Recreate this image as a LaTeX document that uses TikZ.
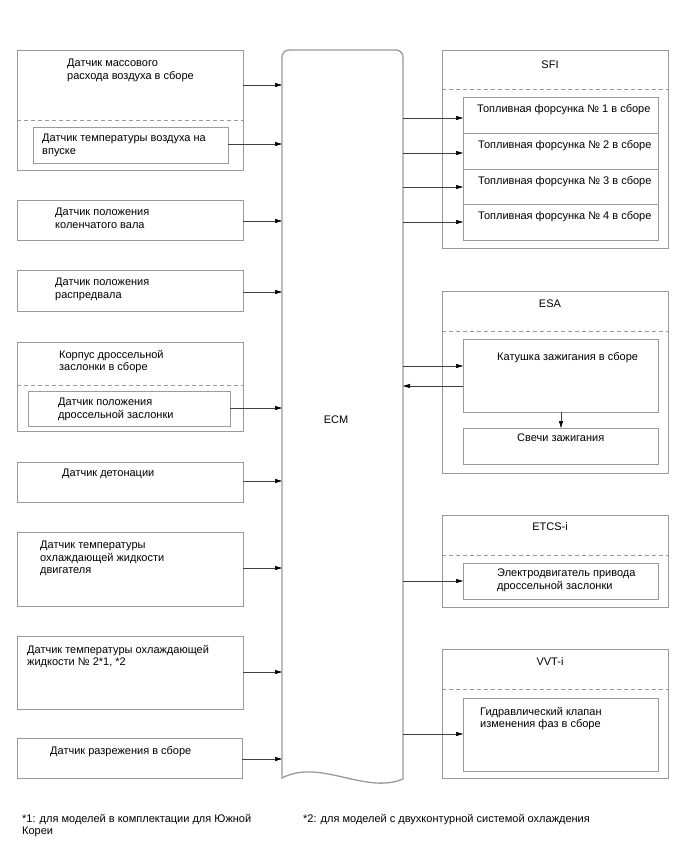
\documentclass[tikz,border=0pt]{standalone}
\usepackage{fontspec}
\setmainfont{Liberation Sans}
\usetikzlibrary{arrows.meta}
\definecolor{boxgray}{HTML}{9A9A9A}
\definecolor{conngray}{HTML}{404040}
\newcommand\lbfont{\fontsize{11}{12.6}\selectfont}
\newcommand\mybox[5]{\node[bx, minimum width={(#4-#2)*1pt}, minimum height={(#5-#3)*1pt}] (#1) at (#2,#3) {};}
\newcommand\mylbl[4]{\node[lbl] (#1) at (#2,#3) {#4};}
\tikzset{
  bx/.style={draw=boxgray, line width=0.8pt, rectangle, inner sep=0pt, outer sep=0pt, anchor=north west},
  lbl/.style={anchor=north west, inner sep=0pt, align=left, font=\lbfont, yshift=4pt},
  clbl/.style={anchor=center, inner sep=0pt, font=\lbfont},
  sepline/.style={draw=boxgray, dash pattern=on 4pt off 3pt, line width=0.8pt},
  conn/.style={draw=conngray, line width=0.6pt, -{Triangle[length=7pt,width=4pt,black]}},
  ecmline/.style={draw=boxgray, line width=1.3pt},
}
\begin{document}
\begin{tikzpicture}[x=1pt,y=-1pt]
\useasboundingbox[fill=white] (0,0) rectangle (688,852);

% ECM
\node[inner sep=0pt, outer sep=0pt, minimum width=121pt, minimum height=728pt, anchor=north west] (ecm) at (282,50) {};
\draw[ecmline] (282,778) -- (282,57) arc[start angle=180,end angle=90,radius=7pt]
  -- (396,50) arc[start angle=90,end angle=0,radius=7pt]
  -- (403,779) .. controls (365,795) and (320,758) .. (282,778) -- cycle;
\node[clbl] (ecmlbl) at (336,420) {ECM};

% Left column
\mybox{maf}{17}{50}{243}{170}
\draw[sepline] (maf.west |- 0,120) -- (maf.east |- 0,120);
\mylbl{maft}{67}{63}{Датчик массового\\расхода воздуха в сборе}
\mybox{iat}{33}{127}{228}{163}
\mylbl{iatt}{42}{138}{Датчик температуры воздуха на\\впуске}

\mybox{crk}{17}{200}{243}{240}
\mylbl{crkt}{55}{212}{Датчик положения\\коленчатого вала}

\mybox{cam}{17}{270}{243}{311}
\mylbl{camt}{55}{282}{Датчик положения\\распредвала}

\mybox{thr}{17}{342}{243}{431}
\draw[sepline] (thr.west |- 0,385) -- (thr.east |- 0,385);
\mylbl{thrt}{59}{354}{Корпус дроссельной\\заслонки в сборе}
\mybox{tps}{28}{391}{230}{426}
\mylbl{tpst}{58}{402}{Датчик положения\\дроссельной заслонки}

\mybox{knk}{17}{462}{243}{502}
\mylbl{knkt}{62}{473}{Датчик детонации}

\mybox{ect}{17}{532}{243}{606}
\mylbl{ectt}{40}{545}{Датчик температуры\\охлаждающей жидкости\\двигателя}

\mybox{ectb}{17}{636}{243}{709}
\mylbl{ectbt}{27}{649}{Датчик температуры охлаждающей\\жидкости № 2*1, *2}

\mybox{vac}{17}{738}{242}{778}
\mylbl{vact}{50}{750}{Датчик разрежения в сборе}

% Left arrows
\draw[conn] (maf.east |- 0,85) -- (ecm.west |- 0,85);
\draw[conn] (iat.east |- 0,144) -- (ecm.west |- 0,144);
\draw[conn] (crk.east |- 0,221) -- (ecm.west |- 0,221);
\draw[conn] (cam.east |- 0,292) -- (ecm.west |- 0,292);
\draw[conn] (tps.east |- 0,408) -- (ecm.west |- 0,408);
\draw[conn] (knk.east |- 0,481) -- (ecm.west |- 0,481);
\draw[conn] (ect.east |- 0,568) -- (ecm.west |- 0,568);
\draw[conn] (ectb.east |- 0,672) -- (ecm.west |- 0,672);
\draw[conn] (vac.east |- 0,759) -- (ecm.west |- 0,759);

% SFI
\mybox{sfi}{442}{50}{668}{248}
\draw[sepline] (sfi.west |- 0,89) -- (sfi.east |- 0,89);
\node[clbl] (sfit) at (550,65) {SFI};
\mybox{inj1}{463}{97}{658}{133}
\mybox{inj2}{463}{133}{658}{169}
\mybox{inj3}{463}{169}{658}{204}
\mybox{inj4}{463}{204}{658}{240}
\mylbl{inj1t}{477}{108}{Топливная форсунка № 1 в сборе}
\mylbl{inj2t}{478}{144}{Топливная форсунка № 2 в сборе}
\mylbl{inj3t}{478}{180}{Топливная форсунка № 3 в сборе}
\mylbl{inj4t}{478}{215}{Топливная форсунка № 4 в сборе}
\draw[conn] (ecm.east |- 0,118) -- (inj1.west |- 0,118);
\draw[conn] (ecm.east |- 0,153) -- (inj2.west |- 0,153);
\draw[conn] (ecm.east |- 0,187) -- (inj3.west |- 0,187);
\draw[conn] (ecm.east |- 0,222) -- (inj4.west |- 0,222);

% ESA
\mybox{esa}{442}{291}{668}{473}
\draw[sepline] (esa.west |- 0,331) -- (esa.east |- 0,331);
\node[clbl] (esat) at (550,304) {ESA};
\mybox{coil}{463}{339}{658}{412}
\mylbl{coilt}{497}{356}{Катушка зажигания в сборе}
\mybox{plug}{463}{428}{658}{464}
\mylbl{plugt}{517}{438}{Свечи зажигания}
\draw[conn] (ecm.east |- 0,366) -- (coil.west |- 0,366);
\draw[conn] (coil.west |- 0,386) -- (ecm.east |- 0,386);
\draw[conn] (coil.south -| 561,0) -- (plug.north -| 561,0);

% ETCS-i
\mybox{etcs}{442}{515}{668}{607}
\draw[sepline] (etcs.west |- 0,555) -- (etcs.east |- 0,555);
\node[clbl] (etcst) at (550,527) {ETCS-i};
\mybox{mot}{463}{563}{658}{599}
\mylbl{mott}{497}{573}{Электродвигатель привода\\дроссельной заслонки}
\draw[conn] (ecm.east |- 0,581) -- (mot.west |- 0,581);

% VVT-i
\mybox{vvt}{442}{649}{668}{778}
\draw[sepline] (vvt.west |- 0,689) -- (vvt.east |- 0,689);
\node[clbl] (vvtt) at (550,662) {VVT-i};
\mybox{ocv}{463}{698}{658}{771}
\mylbl{ocvt}{480}{711}{Гидравлический клапан\\изменения фаз в сборе}
\draw[conn] (ecm.east |- 0,734) -- (ocv.west |- 0,734);

% Notes
\mylbl{n1}{22}{818}{*1: для моделей в комплектации для Южной\\Кореи}
\mylbl{n2}{303}{818}{*2: для моделей с двухконтурной системой охлаждения}
\end{tikzpicture}
\end{document}
